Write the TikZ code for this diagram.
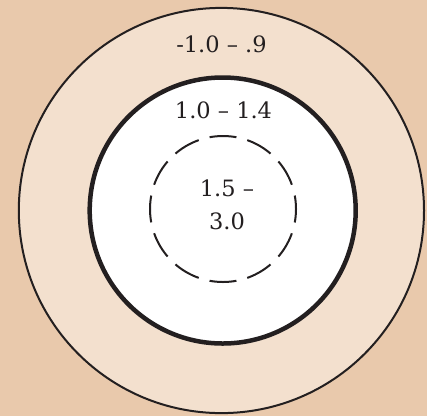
\documentclass[tikz,border=0pt]{standalone}
\usepackage{fontspec}
\setmainfont{DejaVu Serif}
\definecolor{bgtan}{RGB}{233,201,172}
\definecolor{ringtan}{RGB}{243,224,206}
\definecolor{ink}{RGB}{35,31,32}
\begin{document}
\begin{tikzpicture}[x=1pt,y=-1pt,
  ring/.style={circle,inner sep=0pt,outer sep=0pt,draw=ink},
  lbl/.style={text=ink,font=\fontsize{22.5}{32.5}\selectfont,inner sep=0pt,anchor=base}]
\useasboundingbox (0,0) rectangle (435,416);
\fill[bgtan] (0,0) rectangle (427,416);
\node[ring,fill=ringtan,line width=2pt,minimum size=405.2pt] (outer) at (221.4,210.5) {};
\node[ring,fill=white,line width=4.5pt,minimum size=266pt] (middle) at (222.7,210.5) {};
\node[ring,line width=2pt,minimum size=146pt,dash pattern=on 27pt off 11.22pt,dash phase=13.5pt] (inner) at (223,209) {};
\node[lbl] (louter) at (221.5,52) {-1.0 – .9};
\node[lbl] (lmiddle) at (223.5,118) {1.0 – 1.4};
\node[lbl,anchor=center,align=center] (linner) at (227,205) {1.5 –\\3.0};
\end{tikzpicture}
\end{document}
